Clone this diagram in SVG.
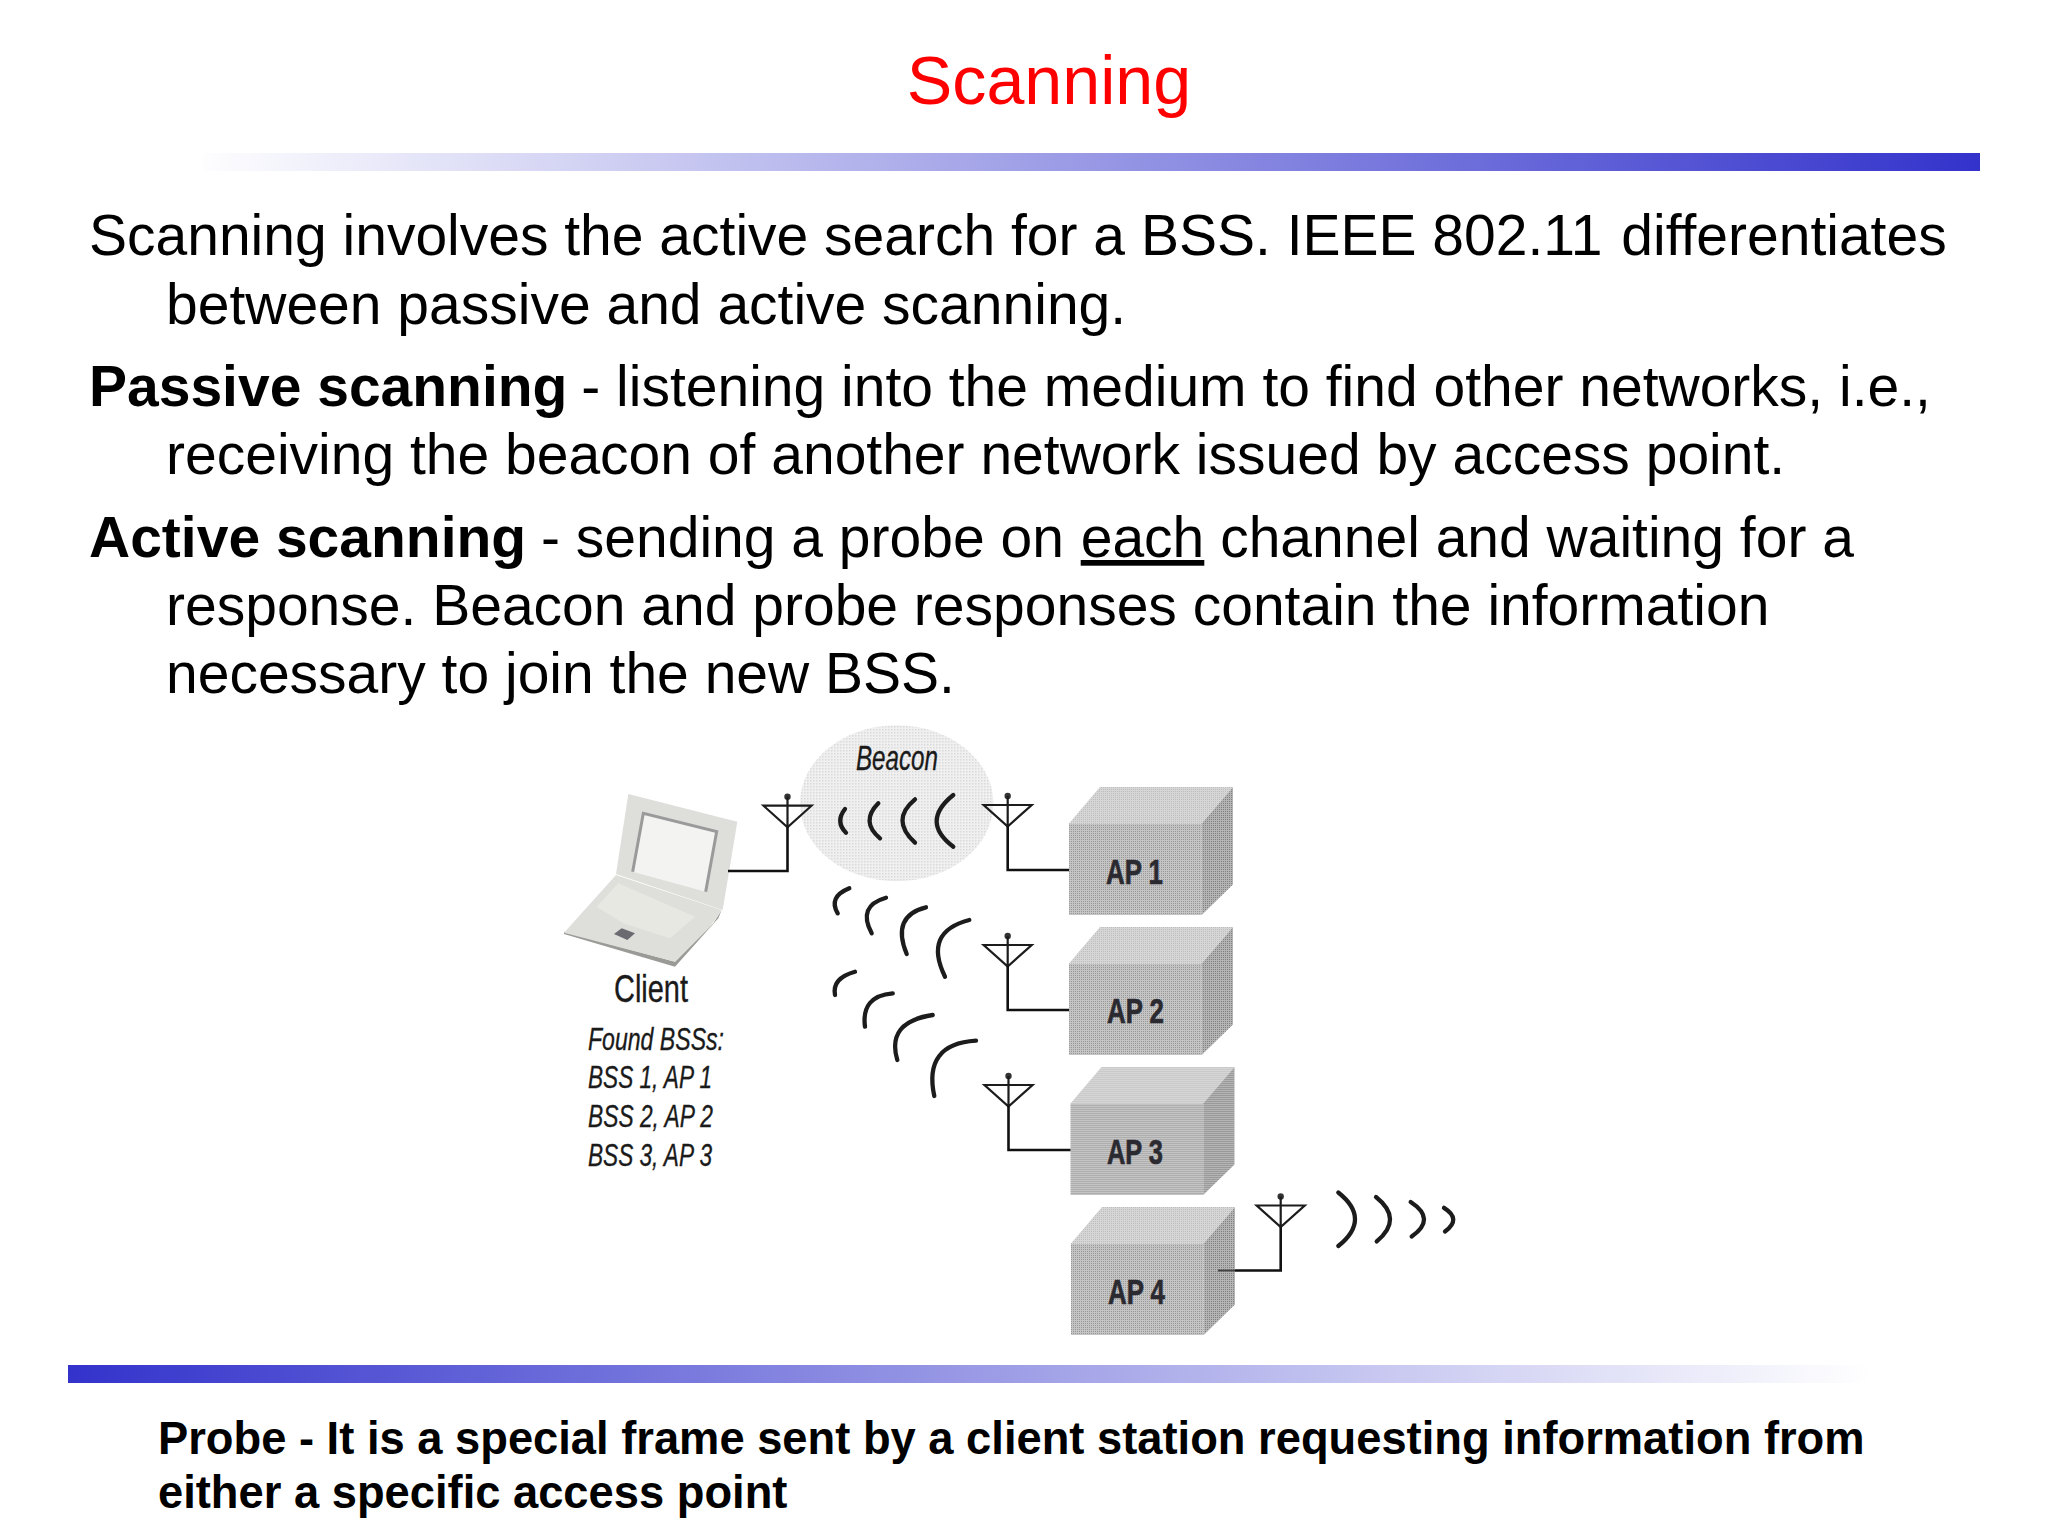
<svg xmlns="http://www.w3.org/2000/svg" width="2048" height="1536" viewBox="0 0 2048 1536">
<style>
text{font-family:"Liberation Sans",Arial,sans-serif;fill:#000}
.title{font-size:68.200px;fill:#f00;text-anchor:middle}
.body{font-size:57px}
.b{font-weight:700}
.note{font-size:45.300px;font-weight:700}
.ap{font-family:"Liberation Sans Narrow","Liberation Sans",sans-serif;font-size:35px;font-weight:700;fill:#2a2a30;stroke:#2a2a30;stroke-width:.7}
.hand{font-family:"Liberation Sans Narrow","Liberation Sans",sans-serif;fill:#1a1a1a;stroke:#1a1a1a;stroke-width:.35}
.it{font-style:italic;font-size:32px}
.wire{fill:none;stroke:#111;stroke-width:2.6}
.wave{fill:none;stroke:#1c1c1c;stroke-width:4.300;stroke-linecap:round}
.ant{fill:none;stroke:#1c1c1c;stroke-width:2.2}
.top{fill:url(#dTop)}.front{fill:url(#dFront)}.side{fill:url(#dSide)}
</style>
<defs>
<linearGradient id="gTop" gradientUnits="userSpaceOnUse" x1="190" x2="1980" y1="0" y2="0"><stop offset="0" stop-color="#fff"/><stop offset="1" stop-color="#3333cc"/></linearGradient>
<linearGradient id="gBot" x1="0" x2="1" y1="0" y2="0"><stop offset="0" stop-color="#3333cc"/><stop offset="1" stop-color="#fff"/></linearGradient>
<pattern id="dTop" width="2" height="2" patternUnits="userSpaceOnUse"><rect width="2" height="2" fill="#d6d6d6"/><rect width="1" height="1" fill="#bdbdbd"/></pattern>
<pattern id="dFront" width="2" height="2" patternUnits="userSpaceOnUse"><rect width="2" height="2" fill="#c4c4c4"/><rect width="1" height="1" fill="#989898"/></pattern>
<pattern id="dSide" width="2" height="2" patternUnits="userSpaceOnUse"><rect width="2" height="2" fill="#b4b4b4"/><rect width="1" height="1" fill="#808080"/></pattern>
<pattern id="dBeacon" width="3" height="3" patternUnits="userSpaceOnUse"><rect width="3" height="3" fill="#f0f0f0"/><rect width="1.5" height="1.5" fill="#dadada"/></pattern>
<pattern id="dLap" width="2" height="2" patternUnits="userSpaceOnUse"><rect width="2" height="2" fill="#ebebe8"/><rect width="1" height="1" fill="#b6b6b4"/></pattern>
<g id="antenna"><circle cx="0" cy="-9" r="3.2" fill="#333"/><path class="ant" d="M-24,0H24L0,21.5Z M0,-9V21.5"/></g>
<g id="box"><path class="top" d="M0,36.5L31,0H164L132.700,36.500Z"/><path class="side" d="M132.700,36.500L164,0V97.500L132.700,128Z"/><rect class="front" x="0" y="36.5" width="132.700" height="91.500"/></g>
</defs>
<rect width="2048" height="1536" fill="#fff"/>
<text class="title" x="1049" y="104">Scanning</text>
<rect id="bar-top" x="203" y="153" width="1777" height="18" fill="url(#gTop)"/>
<g id="body-text">
<text class="body" x="89" y="255">Scanning involves the active search for a BSS. IEEE 802.11<tspan dx="3"> differentiates</tspan></text>
<text class="body" x="166" y="323.700">between passive and active scanning.</text>
<text class="body" x="89" y="406"><tspan class="b">Passive scanning</tspan><tspan dx="-2"> - listening into the medium to find other networks, i.e.,</tspan></text>
<text class="body" x="166" y="474.400">receiving the beacon of another network issued by access point.</text>
<text class="body" x="89" y="557"><tspan class="b">Active scanning</tspan><tspan dx="-1"> - sending a probe on </tspan><tspan dx="1" text-decoration="underline">each</tspan> channel and waiting for a</text>
<text class="body" x="166" y="625.400">response. Beacon and probe responses contain the information</text>
<text class="body" x="166" y="693.400">necessary to join the new BSS.</text>
</g>
<g id="beacon"><ellipse cx="896.700" cy="803.300" rx="96.700" ry="78" fill="url(#dBeacon)"/><text class="hand" x="856" y="770" font-style="italic" font-size="35" textLength="82" lengthAdjust="spacingAndGlyphs">Beacon</text></g>
<g id="client">
<g transform="translate(540 710) scale(.33333)">
<path fill="url(#dLap)" d="M265,252L592,335L548,600L228,492Z"/>
<path fill="#f3f3f1" d="M310,310L530,365L497,545L278,485Z"/>
<path fill="none" stroke="#9a9a9a" stroke-width="9" d="M278,485L310,310L530,365L497,545"/>
<path fill="#9a9a96" d="M72,672L405,770L535,625L545,600L520,640L405,755L72,665Z"/>
<path fill="url(#dLap)" d="M72,668L228,495L545,600L510,650L405,755Z"/>
<path fill="#efefe8" d="M170,590L235,520L465,620L390,685L250,640Z" opacity=".6"/>
<path fill="#6a6a70" d="M222,672L245,655L285,670L262,690Z"/>
</g>
<text class="hand" x="614" y="1002" font-size="38" textLength="74" lengthAdjust="spacingAndGlyphs">Client</text>
<text class="hand it" x="588" y="1050" textLength="136" lengthAdjust="spacingAndGlyphs">Found BSSs:</text>
<text class="hand it" x="588" y="1088" textLength="124" lengthAdjust="spacingAndGlyphs">BSS 1, AP 1</text>
<text class="hand it" x="588" y="1127" textLength="125" lengthAdjust="spacingAndGlyphs">BSS 2, AP 2</text>
<text class="hand it" x="588" y="1166" textLength="124" lengthAdjust="spacingAndGlyphs">BSS 3, AP 3</text>
</g>
<g id="ap1"><use href="#box" x="1069" y="787"/><text class="ap" x="1106" y="884" textLength="57" lengthAdjust="spacingAndGlyphs">AP 1</text></g>
<g id="ap2"><use href="#box" x="1069" y="927"/><text class="ap" x="1107" y="1023" textLength="57" lengthAdjust="spacingAndGlyphs">AP 2</text></g>
<g id="ap3"><use href="#box" x="1070.500" y="1067"/><text class="ap" x="1107" y="1164" textLength="56" lengthAdjust="spacingAndGlyphs">AP 3</text></g>
<g id="ap4"><use href="#box" x="1071" y="1207"/><text class="ap" x="1108" y="1304" textLength="57" lengthAdjust="spacingAndGlyphs">AP 4</text></g>
<g id="connectors">
<use href="#antenna" x="787.500" y="805.700"/>
<use href="#antenna" x="1007.700" y="805"/>
<use href="#antenna" x="1007.700" y="945"/>
<use href="#antenna" x="1008.500" y="1085"/>
<use href="#antenna" x="1280.700" y="1205.500"/>
<path class="wire" d="M728,871H787.500V827"/>
<path class="wire" d="M1007.700,826V870H1069"/>
<path class="wire" d="M1007.700,966V1010H1069"/>
<path class="wire" d="M1008.500,1106V1150H1070.500"/>
<path class="wire" d="M1235,1270.500H1280.700V1227"/>
<path d="M1218,1270.500H1235" fill="none" stroke="#444" stroke-width="2"/>
</g>
<g id="waves">
<path class="wave" d="M845,809Q835,821.700 846,832.700"/>
<path class="wave" d="M878.300,803.300Q860,821.700 880,838.300"/>
<path class="wave" d="M915,799.300Q890,820 915,842.700"/>
<path class="wave" d="M953.300,795Q920,821.700 953.300,846.700"/>
<path class="wave" d="M849.300,888.300Q828,897 837.700,913.300"/>
<path class="wave" d="M886,897.700Q857,906 871.700,933.300"/>
<path class="wave" d="M926,907.300Q891,916 906.700,954"/>
<path class="wave" d="M969.300,920Q923,932 945,976.700"/>
<path class="wave" d="M855,971.700Q832,978 835,995"/>
<path class="wave" d="M892.700,993.300Q861,996 865,1026.700"/>
<path class="wave" d="M932.700,1015Q886,1022 897.300,1060"/>
<path class="wave" d="M976,1040.700Q923,1044 934.300,1096"/>
<path class="wave" d="M1338.300,1192.500Q1371.700,1219 1338.300,1246"/>
<path class="wave" d="M1376,1197Q1403.700,1219 1376.700,1241.400"/>
<path class="wave" d="M1410.700,1202Q1436.800,1219 1411.700,1236.500"/>
<path class="wave" d="M1444,1207.800Q1462,1219 1445,1231.500"/>
</g>
<rect id="bar-bottom" x="68" y="1365" width="1802" height="18" fill="url(#gBot)"/>
<g id="note">
<text class="note" x="158" y="1454">Probe - It is a special frame sent by a client station requesting information from</text>
<text class="note" x="158" y="1508">either a specific access point</text>
</g>
</svg>
